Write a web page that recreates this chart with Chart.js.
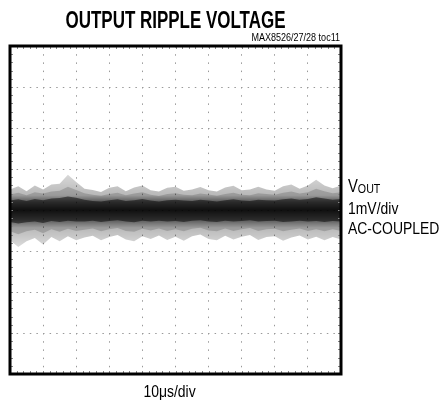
<!DOCTYPE html>
<html>
<head>
<meta charset="utf-8">
<script src="https://cdn.jsdelivr.net/npm/chart.js@4/dist/chart.umd.min.js"></script>
<style>
  html, body { margin: 0; padding: 0; background: #fff; }
</style>
</head>
<body>
<canvas id="grafico" width="440" height="406"></canvas>
<script>
// eixo do tempo (us), 10us/div
var tempo = [0, 2.5, 5, 7.5, 10, 12.5, 15, 17.5, 20, 22.5, 25, 27.5, 30, 32.5, 35, 37.5, 40, 42.5, 45, 47.5,
  50, 52.5, 55, 57.5, 60, 62.5, 65, 67.5, 70, 72.5, 75, 77.5, 80, 82.5, 85, 87.5, 90, 92.5, 95, 97.5, 100];

// envelope do ruido em mV: borda externa, meio e nucleo
var externoSup = [0.50, 0.58, 0.46, 0.60, 0.50, 0.62, 0.64, 0.86, 0.68, 0.52, 0.49, 0.44, 0.54, 0.58, 0.46, 0.55, 0.60, 0.48, 0.45, 0.54,
  0.57, 0.47, 0.50, 0.56, 0.48, 0.45, 0.55, 0.59, 0.48, 0.50, 0.57, 0.50, 0.47, 0.58, 0.62, 0.52, 0.60, 0.74, 0.60, 0.53, 0.60];
var externoInf = [-0.74, -0.90, -0.76, -0.68, -0.84, -0.66, -0.76, -0.64, -0.74, -0.67, -0.63, -0.74, -0.66, -0.61, -0.72, -0.76, -0.64, -0.71, -0.62, -0.73,
  -0.65, -0.75, -0.64, -0.60, -0.71, -0.74, -0.63, -0.72, -0.65, -0.61, -0.73, -0.66, -0.64, -0.75, -0.67, -0.62, -0.72, -0.65, -0.74, -0.66, -0.72];
var meioSup = [0.38, 0.42, 0.36, 0.43, 0.40, 0.45, 0.47, 0.57, 0.49, 0.41, 0.37, 0.35, 0.39, 0.42, 0.36, 0.40, 0.43, 0.37, 0.34, 0.39,
  0.41, 0.37, 0.36, 0.40, 0.38, 0.35, 0.39, 0.42, 0.37, 0.36, 0.41, 0.39, 0.37, 0.42, 0.45, 0.40, 0.43, 0.52, 0.46, 0.41, 0.43];
var meioInf = [-0.52, -0.59, -0.52, -0.48, -0.57, -0.47, -0.53, -0.46, -0.51, -0.48, -0.45, -0.52, -0.47, -0.44, -0.51, -0.53, -0.46, -0.50, -0.45, -0.51,
  -0.47, -0.52, -0.46, -0.43, -0.50, -0.52, -0.45, -0.51, -0.47, -0.44, -0.51, -0.47, -0.46, -0.52, -0.48, -0.45, -0.51, -0.47, -0.52, -0.47, -0.51];
var nucleoSup = [0.23, 0.26, 0.22, 0.27, 0.24, 0.28, 0.29, 0.33, 0.30, 0.25, 0.22, 0.21, 0.24, 0.26, 0.22, 0.24, 0.27, 0.23, 0.21, 0.24,
  0.25, 0.23, 0.22, 0.25, 0.23, 0.21, 0.24, 0.26, 0.23, 0.22, 0.25, 0.24, 0.23, 0.26, 0.28, 0.25, 0.27, 0.31, 0.28, 0.25, 0.27];
var nucleoInf = [-0.29, -0.33, -0.30, -0.28, -0.32, -0.27, -0.29, -0.26, -0.28, -0.28, -0.26, -0.29, -0.27, -0.25, -0.28, -0.30, -0.26, -0.28, -0.26, -0.28,
  -0.27, -0.29, -0.26, -0.25, -0.28, -0.29, -0.26, -0.28, -0.27, -0.25, -0.28, -0.27, -0.26, -0.29, -0.28, -0.26, -0.28, -0.27, -0.29, -0.27, -0.28];

function pontos(valores) {
  return tempo.map(function(t, i) { return { x: t, y: valores[i] }; });
}

function faixa(dados, cor, preenche) {
  return {
    data: pontos(dados),
    borderWidth: 0,
    pointRadius: 0,
    tension: 0,
    backgroundColor: cor,
    fill: preenche
  };
}

// degrade vertical: claro nas bordas, escuro no centro
function degrade(c) {
  var ch = c.chart;
  if (!ch.chartArea) return 'rgba(0, 0, 0, 0.3)';
  var y = ch.scales.y;
  var g = ch.ctx.createLinearGradient(0, y.getPixelForValue(0.9), 0, y.getPixelForValue(-0.9));
  g.addColorStop(0, 'rgba(0, 0, 0, 0.14)');
  g.addColorStop(0.3, 'rgba(0, 0, 0, 0.28)');
  g.addColorStop(0.4, 'rgba(0, 0, 0, 0.62)');
  g.addColorStop(0.5, 'rgba(0, 0, 0, 0.85)');
  g.addColorStop(0.62, 'rgba(0, 0, 0, 0.62)');
  g.addColorStop(0.74, 'rgba(0, 0, 0, 0.28)');
  g.addColorStop(1, 'rgba(0, 0, 0, 0.14)');
  return g;
}

// texto estreito (Liberation Sans comprimida na horizontal)
function texto(ctx, str, x, y, fonte, alinha, aperto) {
  ctx.save();
  ctx.font = fonte;
  ctx.textAlign = alinha;
  ctx.translate(x, y);
  ctx.scale(aperto, 1);
  ctx.fillText(str, 0, 0);
  var w = ctx.measureText(str).width * aperto;
  ctx.restore();
  return w;
}

// moldura, marcas menores e textos
var moldura = {
  id: 'moldura',
  afterDraw: function(chart) {
    var ctx = chart.ctx;
    var a = chart.chartArea;
    var sx = chart.scales.x;
    var sy = chart.scales.y;
    ctx.save();

    ctx.strokeStyle = '#888';
    ctx.lineWidth = 1;
    ctx.beginPath();
    for (var t = 2; t < 100; t += 2) {
      var px = Math.round(sx.getPixelForValue(t)) + 0.5;
      ctx.moveTo(px, a.top); ctx.lineTo(px, a.top + 3);
      ctx.moveTo(px, a.bottom); ctx.lineTo(px, a.bottom - 3);
    }
    for (var v = -3.8; v < 4; v += 0.2) {
      var py = Math.round(sy.getPixelForValue(v)) + 0.5;
      ctx.moveTo(a.left, py); ctx.lineTo(a.left + 3, py);
      ctx.moveTo(a.right, py); ctx.lineTo(a.right - 3, py);
    }
    ctx.stroke();

    ctx.strokeStyle = '#000';
    ctx.lineWidth = 3;
    ctx.strokeRect(a.left, a.top, a.right - a.left, a.bottom - a.top);

    var meio = (a.left + a.right) / 2;
    ctx.fillStyle = '#000';

    // titulo ajustado na largura
    var fTit = 'bold 24px "Liberation Sans"';
    ctx.font = fTit;
    var wt = ctx.measureText('OUTPUT RIPPLE VOLTAGE').width;
    texto(ctx, 'OUTPUT RIPPLE VOLTAGE', meio, 28, fTit, 'center', 220 / wt);

    texto(ctx, 'MAX8526/27/28 toc11', a.right - 1, 41, '11px "Liberation Sans"', 'right', 0.82);

    var wv = texto(ctx, 'V', 348, 192, '18px "Liberation Sans"', 'left', 0.82);
    texto(ctx, 'OUT', 348 + wv, 193, '13px "Liberation Sans"', 'left', 0.82);
    texto(ctx, '1mV/div', 348, 214, '17px "Liberation Sans"', 'left', 0.82);
    texto(ctx, 'AC-COUPLED', 348, 234, '17px "Liberation Sans"', 'left', 0.82);

    texto(ctx, '10\u03bcs/div', meio - 6, 397, '17px "Liberation Sans"', 'center', 0.82);
    ctx.restore();
  }
};

var ctx = document.getElementById('grafico').getContext('2d');
var grafico = new Chart(ctx, {
  type: 'line',
  data: {
    datasets: [
      faixa(externoSup, degrade, '+1'),
      faixa(externoInf, 'rgba(0, 0, 0, 0)', false),
      faixa(meioSup, 'rgba(0, 0, 0, 0.16)', '+1'),
      faixa(meioInf, 'rgba(0, 0, 0, 0)', false),
      faixa(nucleoSup, 'rgba(0, 0, 0, 0.5)', '+1'),
      faixa(nucleoInf, 'rgba(0, 0, 0, 0)', false)
    ]
  },
  options: {
    responsive: false,
    animation: false,
    events: [],
    layout: { padding: { left: 10, right: 99, top: 46, bottom: 32 } },
    plugins: {
      legend: { display: false },
      tooltip: { enabled: false }
    },
    scales: {
      x: {
        type: 'linear',
        min: 0,
        max: 100,
        ticks: { display: false, stepSize: 10 },
        grid: { color: '#999', lineWidth: 1, drawTicks: false },
        border: { display: false, dash: [1.5, 6.7] }
      },
      y: {
        type: 'linear',
        min: -4,
        max: 4,
        ticks: { display: false, stepSize: 1 },
        grid: { color: '#999', lineWidth: 1, drawTicks: false },
        border: { display: false, dash: [1.5, 5.1] }
      }
    }
  },
  plugins: [moldura]
});
</script>
</body>
</html>
